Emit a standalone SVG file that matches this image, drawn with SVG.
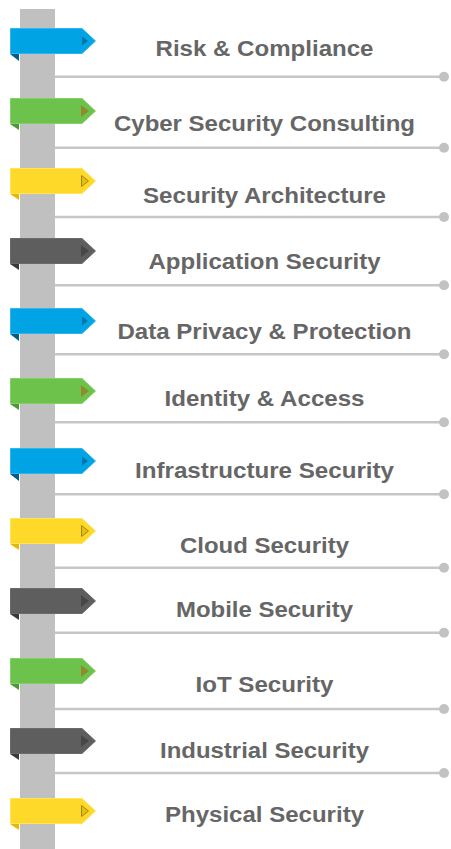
<svg xmlns="http://www.w3.org/2000/svg" xmlns:xlink="http://www.w3.org/1999/xlink" width="451" height="849" viewBox="0 0 451 849">
<style>
.lbl{font-family:"Liberation Sans",Arial,sans-serif;font-weight:bold;font-size:22.5px;fill:#666666;text-anchor:middle}
.conn{stroke:#c6c6c6;stroke-width:2.6;fill:none}
.dot{fill:#c2c2c2}
</style>
<defs>
<g id="tag-blue">
<path d="M10,26 H19 V33 Z" fill="#005f88"/>
<path d="M10.5,0.5 H82 L95.5,13 L82,25.5 H10.5 Z" fill="#00a3e3" stroke="#2fb6ef" stroke-width="1"/>
<path d="M82,8.5 L88,13 L82,17.5 Z" fill="#0077aa"/>
</g>
<g id="tag-green">
<path d="M10,26 H19 V32 Z" fill="#4a9a34"/>
<path d="M10.5,0.5 H82 L95.5,13 L82,25.5 H10.5 Z" fill="#6cc24a" stroke="#84d066" stroke-width="1"/>
<path d="M81,7 L89,13 L81,19 Z" fill="#8f8a2e"/>
</g>
<g id="tag-yellow">
<path d="M10,26 H19 V32 Z" fill="#e6b800"/>
<path d="M10.5,0.5 H82 L95.5,13 L82,25.5 H10.5 Z" fill="#ffd92a" stroke="#ffe35a" stroke-width="1"/>
<path d="M81.5,7.5 L88.5,13 L81.5,18.5 Z" fill="#e8be10" stroke="#a08a10" stroke-width="1"/>
</g>
<g id="tag-dark">
<path d="M10,26 H19 V32 Z" fill="#3a3a3a"/>
<path d="M10.5,0.5 H82 L95.5,13 L82,25.5 H10.5 Z" fill="#5e5e5e" stroke="#6a6a6a" stroke-width="1"/>
<path d="M81,7 L89,13 L81,19 Z" fill="#474747"/>
</g>
</defs>
<rect id="pole" x="20" y="9" width="35" height="840" fill="#c0c0c0"/>
<g id="connectors">
<line class="conn" x1="55" y1="76.7" x2="444" y2="76.7"/><circle class="dot" cx="444" cy="76.7" r="5"/>
<line class="conn" x1="55" y1="147.7" x2="444" y2="147.7"/><circle class="dot" cx="444" cy="147.7" r="5"/>
<line class="conn" x1="55" y1="217" x2="444" y2="217"/><circle class="dot" cx="444" cy="217" r="5"/>
<line class="conn" x1="55" y1="285.3" x2="444" y2="285.3"/><circle class="dot" cx="444" cy="285.3" r="5"/>
<line class="conn" x1="55" y1="354.3" x2="444" y2="354.3"/><circle class="dot" cx="444" cy="354.3" r="5"/>
<line class="conn" x1="55" y1="422.3" x2="444" y2="422.3"/><circle class="dot" cx="444" cy="422.3" r="5"/>
<line class="conn" x1="55" y1="494.3" x2="444" y2="494.3"/><circle class="dot" cx="444" cy="494.3" r="5"/>
<line class="conn" x1="55" y1="567.7" x2="444" y2="567.7"/><circle class="dot" cx="444" cy="567.7" r="5"/>
<line class="conn" x1="55" y1="632.7" x2="444" y2="632.7"/><circle class="dot" cx="444" cy="632.7" r="5"/>
<line class="conn" x1="55" y1="709" x2="444" y2="709"/><circle class="dot" cx="444" cy="709" r="5"/>
<line class="conn" x1="55" y1="773" x2="444" y2="773"/><circle class="dot" cx="444" cy="773" r="5"/>
</g>
<g id="node-risk"><use xlink:href="#tag-blue" x="0" y="28"/><text class="lbl" x="264.5" y="56" textLength="218" lengthAdjust="spacingAndGlyphs">Risk &amp; Compliance</text></g>
<g id="node-cyber"><use xlink:href="#tag-green" x="0" y="98"/><text class="lbl" x="264.5" y="131" textLength="301" lengthAdjust="spacingAndGlyphs">Cyber Security Consulting</text></g>
<g id="node-architecture"><use xlink:href="#tag-yellow" x="0" y="168"/><text class="lbl" x="264.5" y="202.5" textLength="243" lengthAdjust="spacingAndGlyphs">Security Architecture</text></g>
<g id="node-application"><use xlink:href="#tag-dark" x="0" y="238"/><text class="lbl" x="264.5" y="269" textLength="232" lengthAdjust="spacingAndGlyphs">Application Security</text></g>
<g id="node-privacy"><use xlink:href="#tag-blue" x="0" y="308"/><text class="lbl" x="264.5" y="339.3" textLength="294" lengthAdjust="spacingAndGlyphs">Data Privacy &amp; Protection</text></g>
<g id="node-identity"><use xlink:href="#tag-green" x="0" y="378"/><text class="lbl" x="264.5" y="405.7" textLength="200" lengthAdjust="spacingAndGlyphs">Identity &amp; Access</text></g>
<g id="node-infrastructure"><use xlink:href="#tag-blue" x="0" y="448"/><text class="lbl" x="264.5" y="478.3" textLength="259" lengthAdjust="spacingAndGlyphs">Infrastructure Security</text></g>
<g id="node-cloud"><use xlink:href="#tag-yellow" x="0" y="518"/><text class="lbl" x="264.5" y="553" textLength="169" lengthAdjust="spacingAndGlyphs">Cloud Security</text></g>
<g id="node-mobile"><use xlink:href="#tag-dark" x="0" y="588"/><text class="lbl" x="264.5" y="616.7" textLength="177" lengthAdjust="spacingAndGlyphs">Mobile Security</text></g>
<g id="node-iot"><use xlink:href="#tag-green" x="0" y="658"/><text class="lbl" x="264.5" y="692" textLength="138" lengthAdjust="spacingAndGlyphs">IoT Security</text></g>
<g id="node-industrial"><use xlink:href="#tag-dark" x="0" y="728"/><text class="lbl" x="264.5" y="758.3" textLength="209" lengthAdjust="spacingAndGlyphs">Industrial Security</text></g>
<g id="node-physical"><use xlink:href="#tag-yellow" x="0" y="798"/><text class="lbl" x="264.5" y="821.7" textLength="199" lengthAdjust="spacingAndGlyphs">Physical Security</text></g>
</svg>
